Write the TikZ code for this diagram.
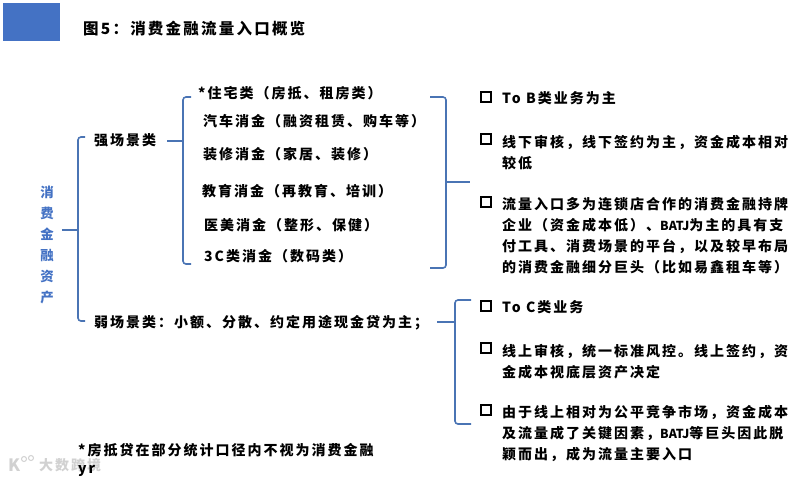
\documentclass[tikz,border=0pt]{standalone}
\usepackage{fontspec}
\setmainfont{Noto Sans CJK SC}[LetterSpace=14.3]
\newfontfamily\tightfont{Noto Sans CJK SC}
\usetikzlibrary{positioning}
\definecolor{headblue}{HTML}{4472C4}
\definecolor{braceblue}{HTML}{4A74B4}
\newcommand{\batj}{{\tightfont\bfseries\fontsize{12.4}{12}\selectfont BATJ}}
\tikzset{
    brace/.style={draw=braceblue,line width=1.6pt,rounded corners=3pt},
    lefttext/.style={right,inner sep=0pt,yshift=-1.5pt,font=\fontsize{14}{16}\selectfont\bfseries},
    righttext/.style={right,inner sep=0pt,yshift=-1.5pt,align=left,font=\fontsize{14}{20.8}\selectfont\bfseries},
    tickbox/.style={draw=black,line width=2pt,minimum size=10pt,inner sep=0pt}
}
\begin{document}
\begin{tikzpicture}[x=1pt,y=-1pt]
    \useasboundingbox (0,0) rectangle (795,480);
    \fill[headblue] (3,3) rectangle (60,41);
    \node[right,inner sep=0pt,yshift=-1pt,font=\fontsize{15.5}{18}\selectfont\bfseries] (title) at (83,28) {图5^^^^ff1a消费金融流量入口概览};

    \node[inner sep=0pt,align=center,text=headblue,font=\fontsize{13.4}{21}\selectfont\bfseries] (assets) at (47,245) {消\\费\\金\\融\\资\\产};
    \node[lefttext] (strong) at (94,139) {强场景类};
    \node[lefttext] (weak) at (94,321) {弱场景类^^^^ff1a小额、分散、约定用途现金贷为主^^^^ff1b};

    \node[lefttext] (house) at (198,92) {*住宅类^^^^ff08房抵、租房类^^^^ff09};
    \node[lefttext] (car) at (203,120) {汽车消金^^^^ff08融资租赁、购车等^^^^ff09};
    \node[lefttext] (decor) at (203,153) {装修消金^^^^ff08家居、装修^^^^ff09};
    \node[lefttext] (edu) at (202,190) {教育消金^^^^ff08再教育、培训^^^^ff09};
    \node[lefttext] (beauty) at (204,224) {医美消金^^^^ff08整形、保健^^^^ff09};
    \node[lefttext] (digital) at (204,255) {3C类消金^^^^ff08数码类^^^^ff09};

    \foreach \y/\n in {97/a, 139/b, 202/c, 306/d, 348/e, 410/f} {
        \node[tickbox] (box\n) at (486,\y) {};
    }
    \node[righttext] (texta) at (502,97) {To B类业务为主};
    \node[righttext] (textb) at (502,151) {线下审核^^^^ff0c线下签约为主^^^^ff0c资金成本相对\\较低};
    \node[righttext] (textc) at (502,234) {流量入口多为连锁店合作的消费金融持牌\\企业^^^^ff08资金成本低^^^^ff09、\batj{}为主的具有支\\付工具、消费场景的平台^^^^ff0c以及较早布局\\的消费金融细分巨头^^^^ff08比如易鑫租车等^^^^ff09};
    \node[righttext] (textd) at (502,306) {To C类业务};
    \node[righttext] (texte) at (502,360) {线上审核^^^^ff0c统一标准风控。线上签约^^^^ff0c资\\金成本视底层资产决定};
    \node[righttext] (textf) at (502,432) {由于线上相对为公平竞争市场^^^^ff0c资金成本\\及流量成了关键因素^^^^ff0c\batj{}等巨头因此脱\\颖而出^^^^ff0c成为流量主要入口};

    \node[right,inner sep=0pt,text=black!18,font=\fontsize{14}{16}\selectfont\bfseries] (mark) at (39,465) {大数跨境};
    \node[right,inner sep=0pt,text=black!18,font=\fontsize{17}{18}\selectfont\bfseries] (markk) at (8,465) {K};
    \draw[black!18,line width=1pt] (24,459) circle (2.5pt);
    \draw[black!18,line width=1pt] (31,458) circle (2.5pt);

    \node[lefttext] (note) at (78,449) {*房抵贷在部分统计口径内不视为消费金融};
    \node[lefttext] (noteyr) at (78,469) {yr};

    \coordinate (firsttop) at (85,137);
    \coordinate (firstmid) at (78,230);
    \coordinate (firstbot) at (85,321);
    \draw[brace] (firsttop) -| (firstmid) |- (firstbot);
    \draw[brace,shorten <=8pt] (assets.east |- firstmid) -- (firstmid);

    \coordinate (secondtop) at (191,97);
    \coordinate (secondmid) at (183,141);
    \coordinate (secondbot) at (191,264);
    \draw[brace] (secondtop) -| (secondmid) |- (secondbot);
    \draw[brace,shorten <=11pt] (strong.east |- secondmid) -- (secondmid);

    \coordinate (thirdtop) at (430,97);
    \coordinate (thirdmid) at (446,182);
    \coordinate (thirdbot) at (430,268);
    \coordinate (thirdtip) at (470,182);
    \draw[brace] (thirdtop) -| (thirdmid) |- (thirdbot);
    \draw[brace] (thirdmid) -- (thirdtip);

    \coordinate (fourthtop) at (471,300);
    \coordinate (fourthmid) at (455,322);
    \coordinate (fourthbot) at (471,424);
    \draw[brace] (fourthtop) -| (fourthmid) |- (fourthbot);
    \draw[brace,shorten <=9pt] (weak.east |- fourthmid) -- (fourthmid);
\end{tikzpicture}
\end{document}
